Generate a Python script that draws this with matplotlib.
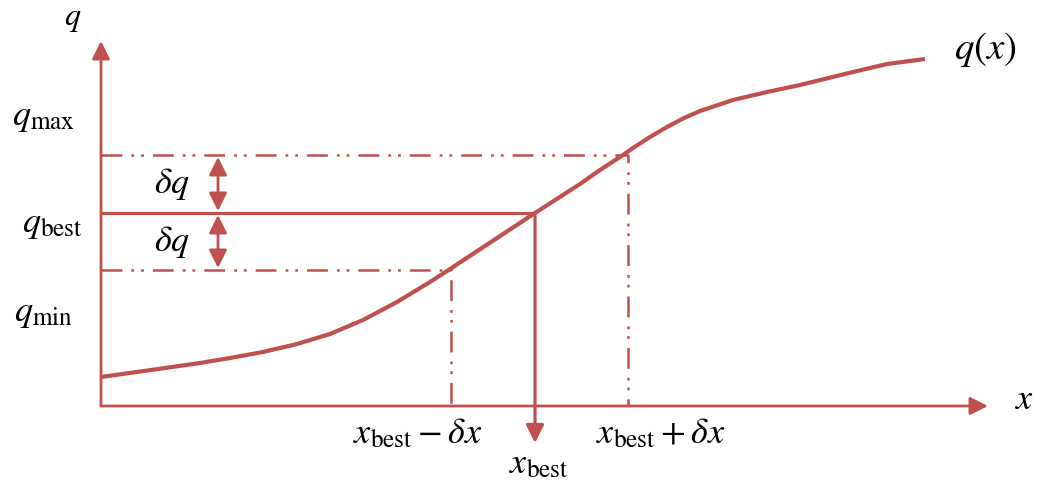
from matplotlib import pyplot as plt
import numpy as np

plt.rcParams['mathtext.fontset'] = 'stix'
plt.rcParams['font.family'] = ['Liberation Serif', 'DejaVu Serif']
plt.rcParams['lines.scale_dashes'] = False

RED = '#C0504D'

# q(x) curve, axis corner at (0, 0)
curve_x = [0, 50, 99, 129, 162, 196, 229, 262, 296, 329, 346, 390, 434, 479, 499,
           522, 532, 549, 566, 583, 599, 632, 666, 699, 752, 786, 824]
curve_y = [29, 36, 43, 48, 54, 62, 72, 86, 104, 124, 135, 164, 193, 222, 236,
           251, 258, 269, 279, 288, 295, 306, 314, 321, 334, 342, 347]

# working point and tolerance band
x_lo, x_best, x_hi = 350, 434, 527
q_lo, q_best, q_hi = 136, 193, 251

# axis extents
x_axis_end = 887
q_axis_end = 365

# tick-like labels
q_labels = [r'$q_{\mathrm{max}}$', r'$q_{\mathrm{best}}$', r'$q_{\mathrm{min}}$']
q_label_pos = [(-89, 281), (-79, 174), (-87, 85)]
x_labels = [r'$x_{\mathrm{best}}-\delta x$', r'$x_{\mathrm{best}}$', r'$x_{\mathrm{best}}+\delta x$']
x_label_pos = [(317, -37), (438, -67), (560, -37)]


def arrow(ax, start, end, style, lw):
    ax.annotate('', xy=end, xytext=start,
                arrowprops=dict(arrowstyle=style, color=RED, lw=lw,
                                mutation_scale=18, shrinkA=0, shrinkB=0))


def main():
    fig = plt.figure(figsize=(10.37, 4.8), dpi=100)
    ax = fig.add_axes([0, 0, 1, 1])
    ax.set_xlim(-101, 936)
    ax.set_ylim(-74, 406)
    ax.axis('off')

    head = '-|>,head_length=0.6,head_width=0.3'
    arrow(ax, (0, 0), (x_axis_end, 0), head, 2)
    arrow(ax, (0, 0), (0, q_axis_end), head, 2)

    # tolerance band, dash-dot-dot
    dd = (0, (15, 6.5, 2, 5, 2, 6.5))
    ax.plot([0, x_hi, x_hi], [q_hi, q_hi, 0], color=RED, lw=1.8, linestyle=dd)
    ax.plot([0, x_lo, x_lo], [q_lo, q_lo, 0], color=RED, lw=1.8, linestyle=dd)

    ax.plot([0, x_best], [q_best, q_best], color=RED, lw=2.3, solid_capstyle='butt')
    arrow(ax, (x_best, q_best), (x_best, -37), head, 2.3)

    dq = '<|-|>,head_length=0.6,head_width=0.3'
    arrow(ax, (117, q_best + 2), (117, q_hi - 2), dq, 2)
    arrow(ax, (117, q_lo + 2), (117, q_best - 2), dq, 2)

    ax.plot(curve_x, curve_y, color=RED, lw=3, solid_joinstyle='round', solid_capstyle='butt')

    fs = 26
    ax.text(-28, 381, r'$q$', fontsize=23, ha='center', va='baseline')
    ax.text(884, 347, r'$q(x)$', fontsize=28, ha='center', va='baseline')
    ax.text(924, -3, r'$x$', fontsize=fs, ha='center', va='baseline')
    for s, (x, y) in zip(q_labels, q_label_pos):
        ax.text(x, y, s, fontsize=fs, ha='left', va='baseline')
    for s, (x, y) in zip(x_labels, x_label_pos):
        ax.text(x, y, s, fontsize=fs, ha='center', va='baseline')
    for y in [(q_best + q_hi) / 2, (q_lo + q_best) / 2]:
        ax.text(71, y, r'$\delta q$', fontsize=fs, ha='center', va='center')

    fig.savefig('out.png', dpi=100, facecolor='white')


if __name__ == '__main__':
    main()
